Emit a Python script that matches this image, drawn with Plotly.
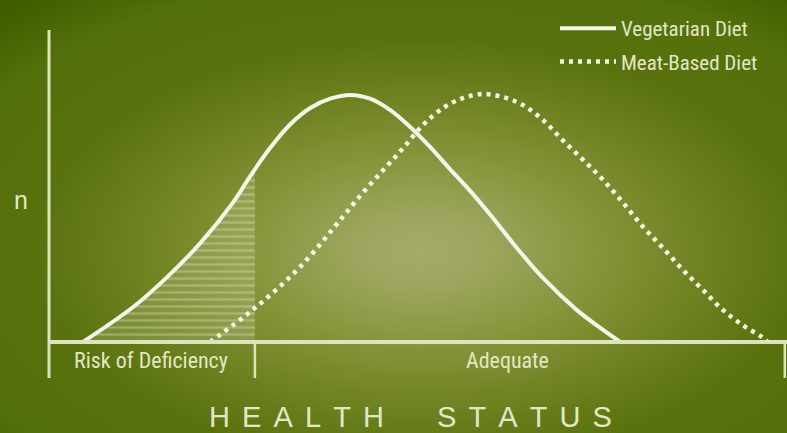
import base64
import numpy as np
import plotly.graph_objects as go

# ---- data (health-status score 0-100, relative frequency n) ----
score_veg = [4.6, 11.4, 16.0, 20.5, 24.9, 27.2, 29.9, 32.7, 35.4, 38.1, 40.8, 43.5, 46.2,
             48.9, 51.6, 54.3, 57.0, 59.8, 62.9, 66.9, 71.5, 74.7, 77.4]
n_veg = [0, 11.2, 20.8, 31.7, 44.6, 52.9, 62.0, 69.8, 75.0, 78.0, 79.2, 78.0, 74.4,
         69.0, 62.6, 55.5, 48.6, 40.8, 31.6, 20.6, 10.3, 4.5, 0]

score_meat = [21.8, 27.6, 34.0, 39.8, 42.5, 45.3, 48.0, 50.7, 53.4, 56.1, 58.8, 61.5, 64.2,
              66.9, 69.6, 72.4, 75.1, 77.8, 80.5, 83.2, 85.9, 88.6, 91.3, 94.0, 96.6, 97.4]
n_meat = [0, 10.3, 24.0, 40.1, 47.8, 55.1, 62.2, 69.6, 75.0, 78.2, 79.5, 78.5, 76.0,
          71.2, 64.7, 58.3, 51.9, 44.6, 36.9, 30.1, 23.1, 16.7, 10.3, 5.4, 1.6, 0]

series_names = ["Vegetarian Diet", "Meat-Based Diet"]
zone_labels = ["Risk of Deficiency", "Adequate"]
zone_bounds = [0, 27.9, 99.7]
zone_label_x = [13.8, 62.1]
x_title = "HEALTH STATUS"
y_title = "n"

# ---- styling ----
LINE = "#f3f5e6"
TXT = "#e2e7c6"
NARROW = "Liberation Sans Narrow, Arial Narrow, Roboto Condensed, Liberation Sans, sans-serif"
SANS = "Liberation Sans, Arial, sans-serif"

svg = """<svg xmlns='http://www.w3.org/2000/svg' width='787' height='433'>
<defs><radialGradient id='g' cx='0.535' cy='0.58' r='0.75'>
<stop offset='0' stop-color='#a5ab68'/>
<stop offset='0.12' stop-color='#9ca55c'/>
<stop offset='0.3' stop-color='#869439'/>
<stop offset='0.5' stop-color='#6b801e'/>
<stop offset='0.66' stop-color='#58710d'/>
<stop offset='0.86' stop-color='#54700b'/>
<stop offset='1' stop-color='#425e00'/>
</radialGradient></defs>
<rect width='787' height='433' fill='url(#g)'/></svg>"""
bg_uri = "data:image/svg+xml;base64," + base64.b64encode(svg.encode()).decode()

W, H = 787, 433
ML, MR, MT, MB = 40, 0, 30, 55
PW, PH = W - ML - MR, H - MT - MB
XR = [-1.22, 100]
YR = [-11.54, 100]


def px(x):
    return (x - XR[0]) / (XR[1] - XR[0])


def py(y):
    return (y - YR[0]) / (YR[1] - YR[0])


fig = go.Figure()

# hatched risk zone under the vegetarian curve
cut = zone_bounds[1]
hx = [v for v in score_veg if v < cut] + [cut]
hy = [n for v, n in zip(score_veg, n_veg) if v < cut] + [float(np.interp(cut, score_veg, n_veg))]
fig.add_trace(go.Scatter(
    x=hx, y=hy, mode="lines", line=dict(width=0, shape="spline"),
    fill="tozeroy", fillcolor="rgba(235,240,205,0.18)",
    fillpattern=dict(shape="-", fgcolor="rgba(240,244,220,0.55)", bgcolor="rgba(230,236,200,0.18)",
                     size=7, solidity=0.35),
    showlegend=False, hoverinfo="skip"))

fig.add_trace(go.Scatter(
    x=score_veg, y=n_veg, mode="lines", name=series_names[0], legendgroup="a",
    line=dict(color=LINE, width=4, shape="spline", smoothing=1)))
fig.add_trace(go.Scatter(
    x=score_meat, y=n_meat, mode="lines", name=series_names[1], legendgroup="b",
    line=dict(color=LINE, width=4.5, dash="4px,5px", shape="spline", smoothing=1)))

AX = "#dde3bd"
shapes = [
    dict(type="line", xref="x", yref="y", x0=0, x1=0, y0=YR[0], y1=YR[1], line=dict(color=AX, width=3)),
    dict(type="line", xref="x", yref="y", x0=0, x1=XR[1], y0=0, y1=0, line=dict(color=AX, width=4)),
]
for b in zone_bounds[1:]:
    shapes.append(dict(type="line", xref="x", yref="y", x0=b, x1=b, y0=YR[0], y1=0,
                       line=dict(color=AX, width=2.5)))

annotations = []
for lab, lx in zip(zone_labels, zone_label_x):
    annotations.append(dict(x=px(lx), y=py(-6.0), xref="paper", yref="paper", text=lab, showarrow=False,
                            xanchor="center", yanchor="middle",
                            font=dict(family=NARROW, size=22, color=TXT)))
sp = "\u2004\u200a"
title_txt = sp.join("HEALTH") + "\u2002\u2002\u2002\u2004" + sp.join("STATUS")
annotations.append(dict(x=px(49.0), y=py(-24.0), xref="paper", yref="paper", text=title_txt,
                        xanchor="center", yanchor="middle",
                        showarrow=False, font=dict(family=SANS, size=29, color=TXT)))
annotations.append(dict(x=px(-3.8), y=py(45.5), xref="paper", yref="paper", text=y_title,
                        xanchor="center", yanchor="middle",
                        showarrow=False, font=dict(family=SANS, size=25, color=TXT)))

fig.update_layout(
    width=W, height=H, autosize=False,
    margin=dict(l=ML, r=MR, t=MT, b=MB),
    paper_bgcolor="#5a700f", plot_bgcolor="rgba(0,0,0,0)",
    images=[dict(source=bg_uri, xref="paper", yref="paper",
                 x=-ML / PW, y=1 + MT / PH, sizex=W / PW, sizey=H / PH,
                 xanchor="left", yanchor="top", sizing="stretch", layer="below")],
    xaxis=dict(range=XR, visible=False, fixedrange=True),
    yaxis=dict(range=YR, visible=False, fixedrange=True),
    shapes=shapes, annotations=annotations,
    showlegend=True,
    legend=dict(x=(555 - ML) / PW, y=1 + (MT - 8) / PH, xanchor="left", yanchor="top",
                bgcolor="rgba(0,0,0,0)", font=dict(family=NARROW, size=21, color=TXT),
                itemwidth=56, traceorder="grouped", tracegroupgap=3),
)

fig.write_html("out.html", config={"displayModeBar": False},
               post_script="document.body.style.margin='0';document.body.style.overflow='hidden';")
